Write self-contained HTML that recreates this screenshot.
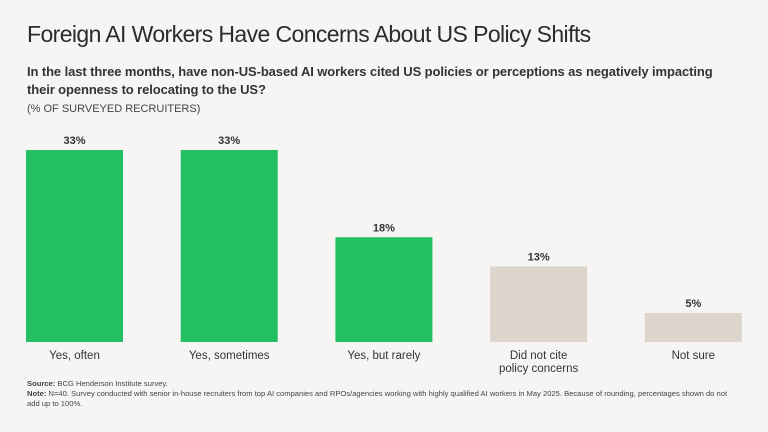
<!DOCTYPE html>
<html><head><meta charset="utf-8"><style>
body{margin:0;width:768px;height:432px;background:#F6F5F3;font-family:"Liberation Sans",sans-serif;color:#333;position:relative;overflow:hidden}
.t{position:absolute;left:27px;top:21px;font-size:23px;color:#2b2b2b;letter-spacing:-0.6px}
.s{position:absolute;left:27px;top:63px;font-size:13px;font-weight:bold;line-height:18px;width:700px;color:#333;letter-spacing:-0.1px}
.u{position:absolute;left:27px;top:103px;font-size:11px;color:#444}
.f{position:absolute;left:27px;font-size:7.6px;color:#444;line-height:9.5px;width:712px}
</style></head><body>
<div class="t">Foreign AI Workers Have Concerns About US Policy Shifts</div>
<div class="s">In the last three months, have non-US-based AI workers cited US policies or perceptions as negatively impacting their openness to relocating to the US?</div>
<div class="u">(% OF SURVEYED RECRUITERS)</div>
<svg id="c" width="768" height="432" style="position:absolute;left:0;top:0"></svg>
<div class="f" style="top:379px"><b>Source:</b> BCG Henderson Institute survey.</div>
<div class="f" style="top:389px"><b>Note:</b> N=40. Survey conducted with senior in-house recruiters from top AI companies and RPOs/agencies working with highly qualified AI workers in May 2025. Because of rounding, percentages shown do not add up to 100%.</div>
<script>
const categories=[["Yes, often"],["Yes, sometimes"],["Yes, but rarely"],["Did not cite","policy concerns"],["Not sure"]];
const values=[33,33,18,13,5];
const colors=["#22C062","#22C062","#22C062","#DDD5CB","#DDD5CB"];
const svg=document.getElementById('c');const NS="http://www.w3.org/2000/svg";
const base=342,scale=192/33,x0=26,step=154.7,bw=97;
const y=v=>base-v*scale;
values.forEach((v,i)=>{
 const x=x0+i*step;
 const r=document.createElementNS(NS,'rect');
 
 
 r.setAttribute('x',x);r.setAttribute('y',y(v));r.setAttribute('width',bw);r.setAttribute('height',base-y(v));r.setAttribute('fill',colors[i]);svg.appendChild(r);
 const t=document.createElementNS(NS,'text');
 
 
 t.setAttribute('x',x+bw/2);t.setAttribute('y',y(v)-6);t.setAttribute('text-anchor','middle');t.setAttribute('font-size','11');t.setAttribute('font-weight','bold');t.setAttribute('fill','#333');t.textContent=v+'%';svg.appendChild(t);
 categories[i].forEach((line,j)=>{
  const c=document.createElementNS(NS,'text');
  
  
  c.setAttribute('x',x+bw/2);c.setAttribute('y',359+j*13);c.setAttribute('text-anchor','middle');c.setAttribute('font-size','11.5');c.setAttribute('fill','#333');c.textContent=line;svg.appendChild(c);
 });
});
</script>
</body></html>
